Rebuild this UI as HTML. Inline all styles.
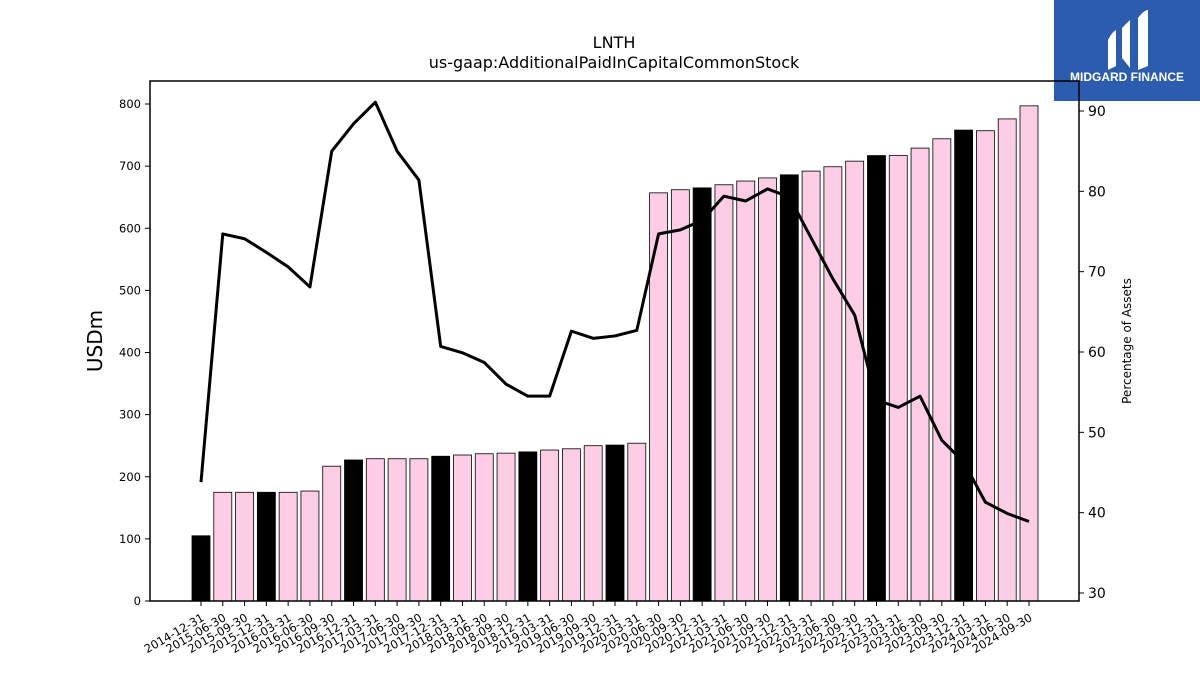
<!DOCTYPE html>
<html><head><meta charset="utf-8"><style>
body{margin:0;background:#fff;}
svg{display:block;font-family:"DejaVu Sans","Liberation Sans",sans-serif;}
</style></head><body>
<svg id="c" width="1200" height="675">
<text x="614" y="48" text-anchor="middle" font-size="16">LNTH</text>
<text x="614" y="68" text-anchor="middle" font-size="16">us-gaap:AdditionalPaidInCapitalCommonStock</text>
<g id="bars"></g><g id="axes"></g>
<text transform="translate(102,341) rotate(-90)" text-anchor="middle" font-size="20">USDm</text>
<text transform="translate(1131,341) rotate(-90)" text-anchor="middle" font-size="12">Percentage of Assets</text>
<g>
<rect x="1054" y="0" width="146" height="101" fill="#2b5cad"/>
<path d="M1108 40 Q1112 32 1116 30 L1116 66 L1108 70 Z M1122 28 L1130 20 L1130 68 L1122 58 Z M1138 18 Q1144 10 1148 10 L1148 66 L1138 70 Z" fill="#fff"/>
<text x="1127" y="81" text-anchor="middle" font-size="12" font-weight="bold" fill="#fff" font-family="Liberation Sans, sans-serif">MIDGARD FINANCE</text>
</g>
</svg>
<script>
const dates=["2014-12-31","2015-06-30","2015-09-30","2015-12-31","2016-03-31","2016-06-30","2016-09-30","2016-12-31","2017-03-31","2017-06-30","2017-09-30","2017-12-31","2018-03-31","2018-06-30","2018-09-30","2018-12-31","2019-03-31","2019-06-30","2019-09-30","2019-12-31","2020-03-31","2020-06-30","2020-09-30","2020-12-31","2021-03-31","2021-06-30","2021-09-30","2021-12-31","2022-03-31","2022-06-30","2022-09-30","2022-12-31","2023-03-31","2023-06-30","2023-09-30","2023-12-31","2024-03-31","2024-06-30","2024-09-30"];
const apic=[105,175,175,175,175,177,217,227,229,229,229,233,235,237,238,240,243,245,250,251,254,657,662,665,670,676,681,686,692,699,708,717,717,729,744,758,757,776,797];
const pctAssets=[43.8,74.7,74.1,72.4,70.6,68.1,85.0,88.4,91.1,85.0,81.4,60.7,59.9,58.7,56.0,54.5,54.5,62.6,61.7,62.0,62.7,74.7,75.2,76.4,79.4,78.8,80.3,79.3,74.2,69.1,64.6,54.0,53.1,54.5,49.0,46.3,41.3,39.9,38.9];
const leftTicks=[0,100,200,300,400,500,600,700,800];
const rightTicks=[30,40,50,60,70,80,90];
const NS="http://www.w3.org/2000/svg";
const X0=150,X1=1079,Y0=81,Y1=601;
const xPos=i=>201+i*(1029-201)/(dates.length-1);
const yL=v=>601-v*(601-104)/800;
const yR=v=>593-(v-30)*(593-111)/60;
const bw=18;
function mk(t,a,p){const e=document.createElementNS(NS,t);for(const k in a)e.setAttribute(k,a[k]);(p||document.getElementById('c')).appendChild(e);return e;}
const bars=document.getElementById('bars'),axes=document.getElementById('axes');
apic.forEach((v,i)=>{
  const ye=dates[i].endsWith("12-31");
  const r=mk('rect',{x:xPos(i)-bw/2,y:yL(v),width:bw,height:yL(0)-yL(v),fill:ye?'#000':'#fccde5',stroke:'#000','stroke-width':0.8},bars);
  
  
  mk('line',{x1:xPos(i),x2:xPos(i),y1:Y1,y2:Y1+5,stroke:'#000'},axes);
  const t=mk('text',{transform:`translate(${xPos(i)+4},${Y1+19}) rotate(-30)`,'text-anchor':'end','font-size':11.5},axes);
  t.textContent=dates[i];
  
  
});
const pl=mk('polyline',{points:pctAssets.map((v,i)=>xPos(i)+','+yR(v)).join(' '),fill:'none',stroke:'#000','stroke-width':3,'stroke-linejoin':'round'});


const fr=mk('rect',{x:X0,y:Y0,width:X1-X0,height:Y1-Y0,fill:'none',stroke:'#000','stroke-width':1.5});


leftTicks.forEach(v=>{
  mk('line',{x1:X0-5,x2:X0,y1:yL(v),y2:yL(v),stroke:'#000'},axes);
  const t=mk('text',{x:X0-9,y:yL(v)+4,'text-anchor':'end','font-size':11.5},axes);
  t.textContent=v;
  
  
});
rightTicks.forEach(v=>{
  mk('line',{x1:X1,x2:X1+5,y1:yR(v),y2:yR(v),stroke:'#000'},axes);
  const t=mk('text',{x:X1+9,y:yR(v)+5,'font-size':14},axes);
  t.textContent=v;
  
  
});
</script>
</body></html>
